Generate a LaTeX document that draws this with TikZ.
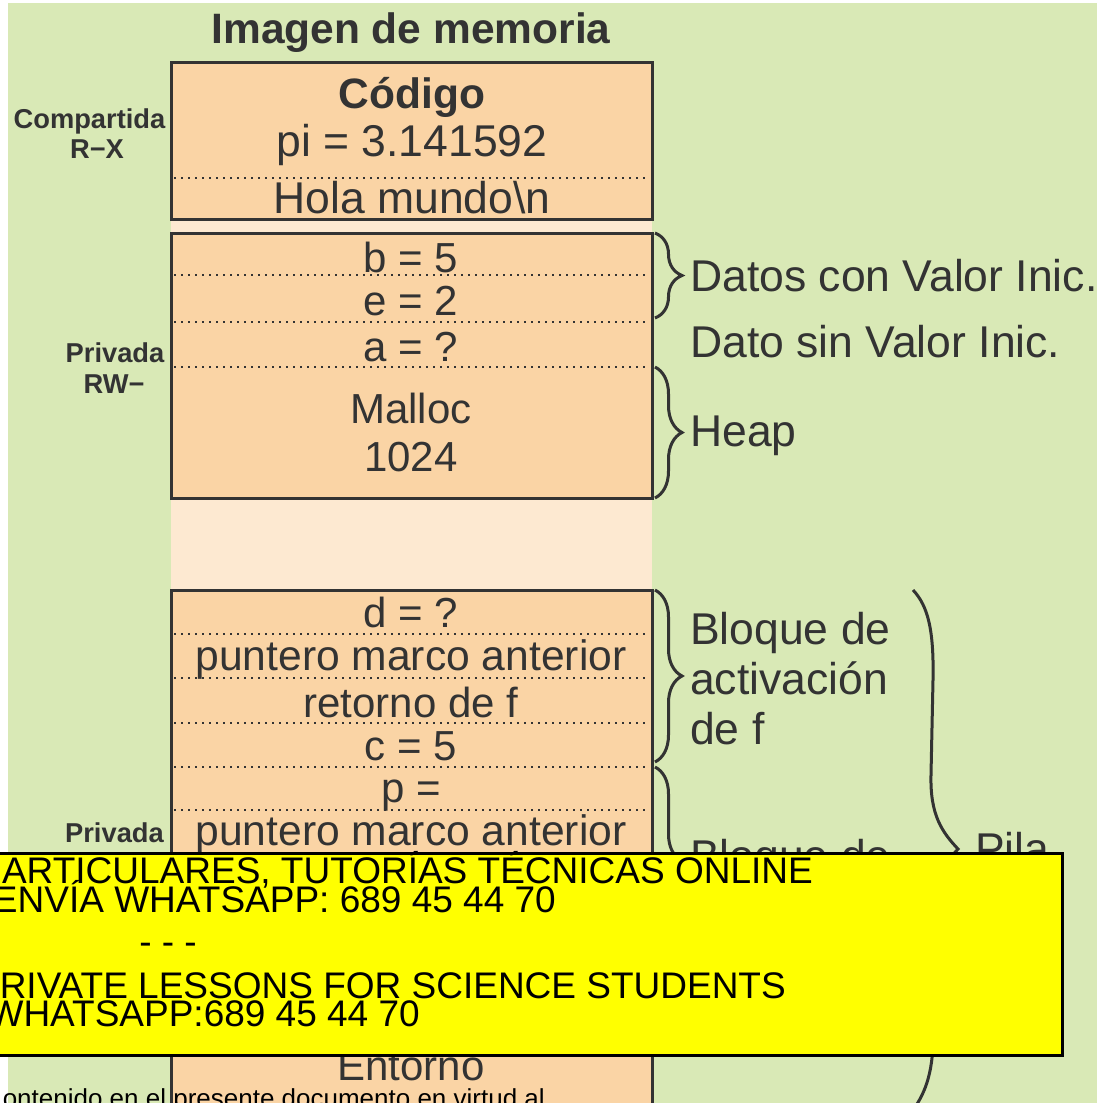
\documentclass[tikz,border=0pt]{standalone}
\usepackage{fontspec}
\setmainfont{Liberation Sans}
\usetikzlibrary{decorations.pathreplacing}
\definecolor{bggreen}{HTML}{D9E9B6}
\definecolor{peach}{HTML}{FAD4A5}
\definecolor{lightpeach}{HTML}{FDE9D1}
\definecolor{ink}{HTML}{333333}
\definecolor{warnyellow}{HTML}{FFFF00}
\newcommand\fsbox{\fontsize{42}{46}\selectfont}
\newcommand\fscode{\fontsize{44.5}{48}\selectfont}
\newcommand\fsside{\fontsize{44.5}{48}\selectfont}
\newcommand\fsperm{\fontsize{27.3}{30}\selectfont\bfseries}
\newcommand\fsad{\fontsize{37}{40}\selectfont}
\tikzset{
  membox/.style={draw=ink, line width=3pt, fill=peach},
  sep/.style={draw=ink, line width=1.6pt, dash pattern=on 1.6pt off 5.4pt},
  cell/.style={anchor=base, inner sep=0pt, text=ink, font=\fsbox},
  side/.style={anchor=base west, inner sep=0pt, text=ink, font=\fsside},
  perm/.style={anchor=base, inner sep=0pt, text=ink, font=\fsperm},
  brc/.style={draw=ink, line width=3pt, decorate, decoration={brace, amplitude=#1}},
  adbox/.style={draw=black, line width=3pt, fill=warnyellow},
  adtext/.style={anchor=base east, inner sep=0pt, text=black, font=\fsad},
}
\begin{document}
\begin{tikzpicture}[x=1pt,y=-1pt]
\useasboundingbox (0,0) rectangle (1097,1103);
\clip (0,0) rectangle (1097,1103);
% backgrounds
\fill[bggreen] (8,3) rectangle (1097,1103);
\fill[lightpeach] (171,219) rectangle (652,1103);
% title
\node[anchor=base, inner sep=0pt, text=ink, font=\fontsize{42.5}{46}\selectfont\bfseries] (title) at (411,43) {Imagen de memoria};
% code segment
\draw[membox] (171,62) rectangle (652,219);
\draw[sep] (174,178) -- (649,178);
\node[cell, font=\fontsize{42.5}{46}\selectfont\bfseries] (codigo) at (412,108) {Código};
\node[cell, font=\fscode] (pi) at (412,156) {pi = 3.141592};
\node[cell, font=\fscode] (hola) at (412,213) {Hola mundo\textbackslash n};
% data segment
\draw[membox] (171,233) rectangle (652,498);
\draw[sep] (174,275) -- (649,275);
\draw[sep] (174,322) -- (649,322);
\draw[sep] (174,367) -- (649,367);
\node[cell] (b) at (411,272) {b = 5};
\node[cell] (e) at (411,315) {e = 2};
\node[cell] (a) at (411,361) {a = ?};
\node[cell] (malloc) at (411,423) {Malloc};
\node[cell] (kb) at (411,471) {1024};
% stack segment
\draw[membox] (171,590) rectangle (652,1130);
\foreach \yy in {634,678,723,767,810}
  \draw[sep] (174,\yy) -- (649,\yy);
\node[cell] (d) at (411,627) {d = ?};
\node[cell, font=\fontsize{42.6}{46}\selectfont] (pma1) at (411,670) {puntero marco anterior};
\node[cell] (ret) at (411,717) {retorno de f};
\node[cell] (c) at (411,760) {c = 5};
\node[cell] (p) at (411,802) {p =};
\node[cell, font=\fontsize{42.6}{46}\selectfont] (pma2) at (411,845) {puntero marco anterior};
\node[cell] (entorno) at (411,1080) {Entorno};
% permission labels
\node[perm] (comp) at (89.5,128) {Compartida};
\node[perm] (rx) at (97,158) {R\textminus X};
\node[perm] (priv1) at (115,362) {Privada};
\node[perm] (rw) at (114,393) {RW\textminus};
\node[perm, anchor=base east] (priv2) at (164,842) {Privada};
% braces and side labels
\coordinate (dA) at (655,233); \coordinate (dB) at (655,318);
\coordinate (hA) at (655,367); \coordinate (hB) at (655,498);
\coordinate (fA) at (655,590); \coordinate (fB) at (655,762);
\coordinate (mA) at (655,767); \coordinate (mB) at (655,955);
\draw[brc=27pt] (dA) -- (dB);
\draw[brc=27pt] (hA) -- (hB);
\draw[brc=27pt] (fA) -- (fB);
\draw[brc=27pt] (mA) -- (mB);
\node[side] (datos) at (690,291) {Datos con Valor Inic.};
\node[side] (sinval) at (690,357) {Dato sin Valor Inic.};
\node[side] (heap) at (690,446) {Heap};
\node[side] (blf1) at (690,644) {Bloque de};
\node[side] (blf2) at (690,694) {activación};
\node[side] (blf3) at (690,744) {de f};
\node[side] (blm1) at (690,871) {Bloque de};
\coordinate (pilaA) at (913,590);
\coordinate (pilaTip) at (958,849);
\coordinate (pilaB) at (913,1110);
\draw[draw=ink, line width=3pt]
  (pilaA) .. controls (928,606) and (934,630) .. (933,680)
  -- (931,775) .. controls (930,815) and (942,832) .. (pilaTip)
  .. controls (942,866) and (932,885) .. (932,925)
  -- (933,1030) .. controls (934,1070) and (926,1092) .. (pilaB);
\node[side] (pila) at (975,864) {Pila};
% overlay notice
\draw[adbox] (-10,853) rectangle (1062,1055);
\node[adtext] (ad1) at (813,883) {ARTICULARES, TUTORÍAS TÉCNICAS ONLINE};
\node[adtext] (ad2) at (556,912) {ENVÍA WHATSAPP: 689 45 44 70};
\node[adtext] (ad3) at (197,954) {- - -};
\node[adtext] (ad4) at (786,998) {RIVATE LESSONS FOR SCIENCE STUDENTS};
\node[adtext] (ad5) at (420,1026) {WHATSAPP:689 45 44 70};
% bottom text
\node[anchor=base east, inner sep=0pt, text=black, font=\fontsize{26}{28}\selectfont] (foot) at (545,1107) {ontenido en el presente documento en virtud al};
\end{tikzpicture}
\end{document}
